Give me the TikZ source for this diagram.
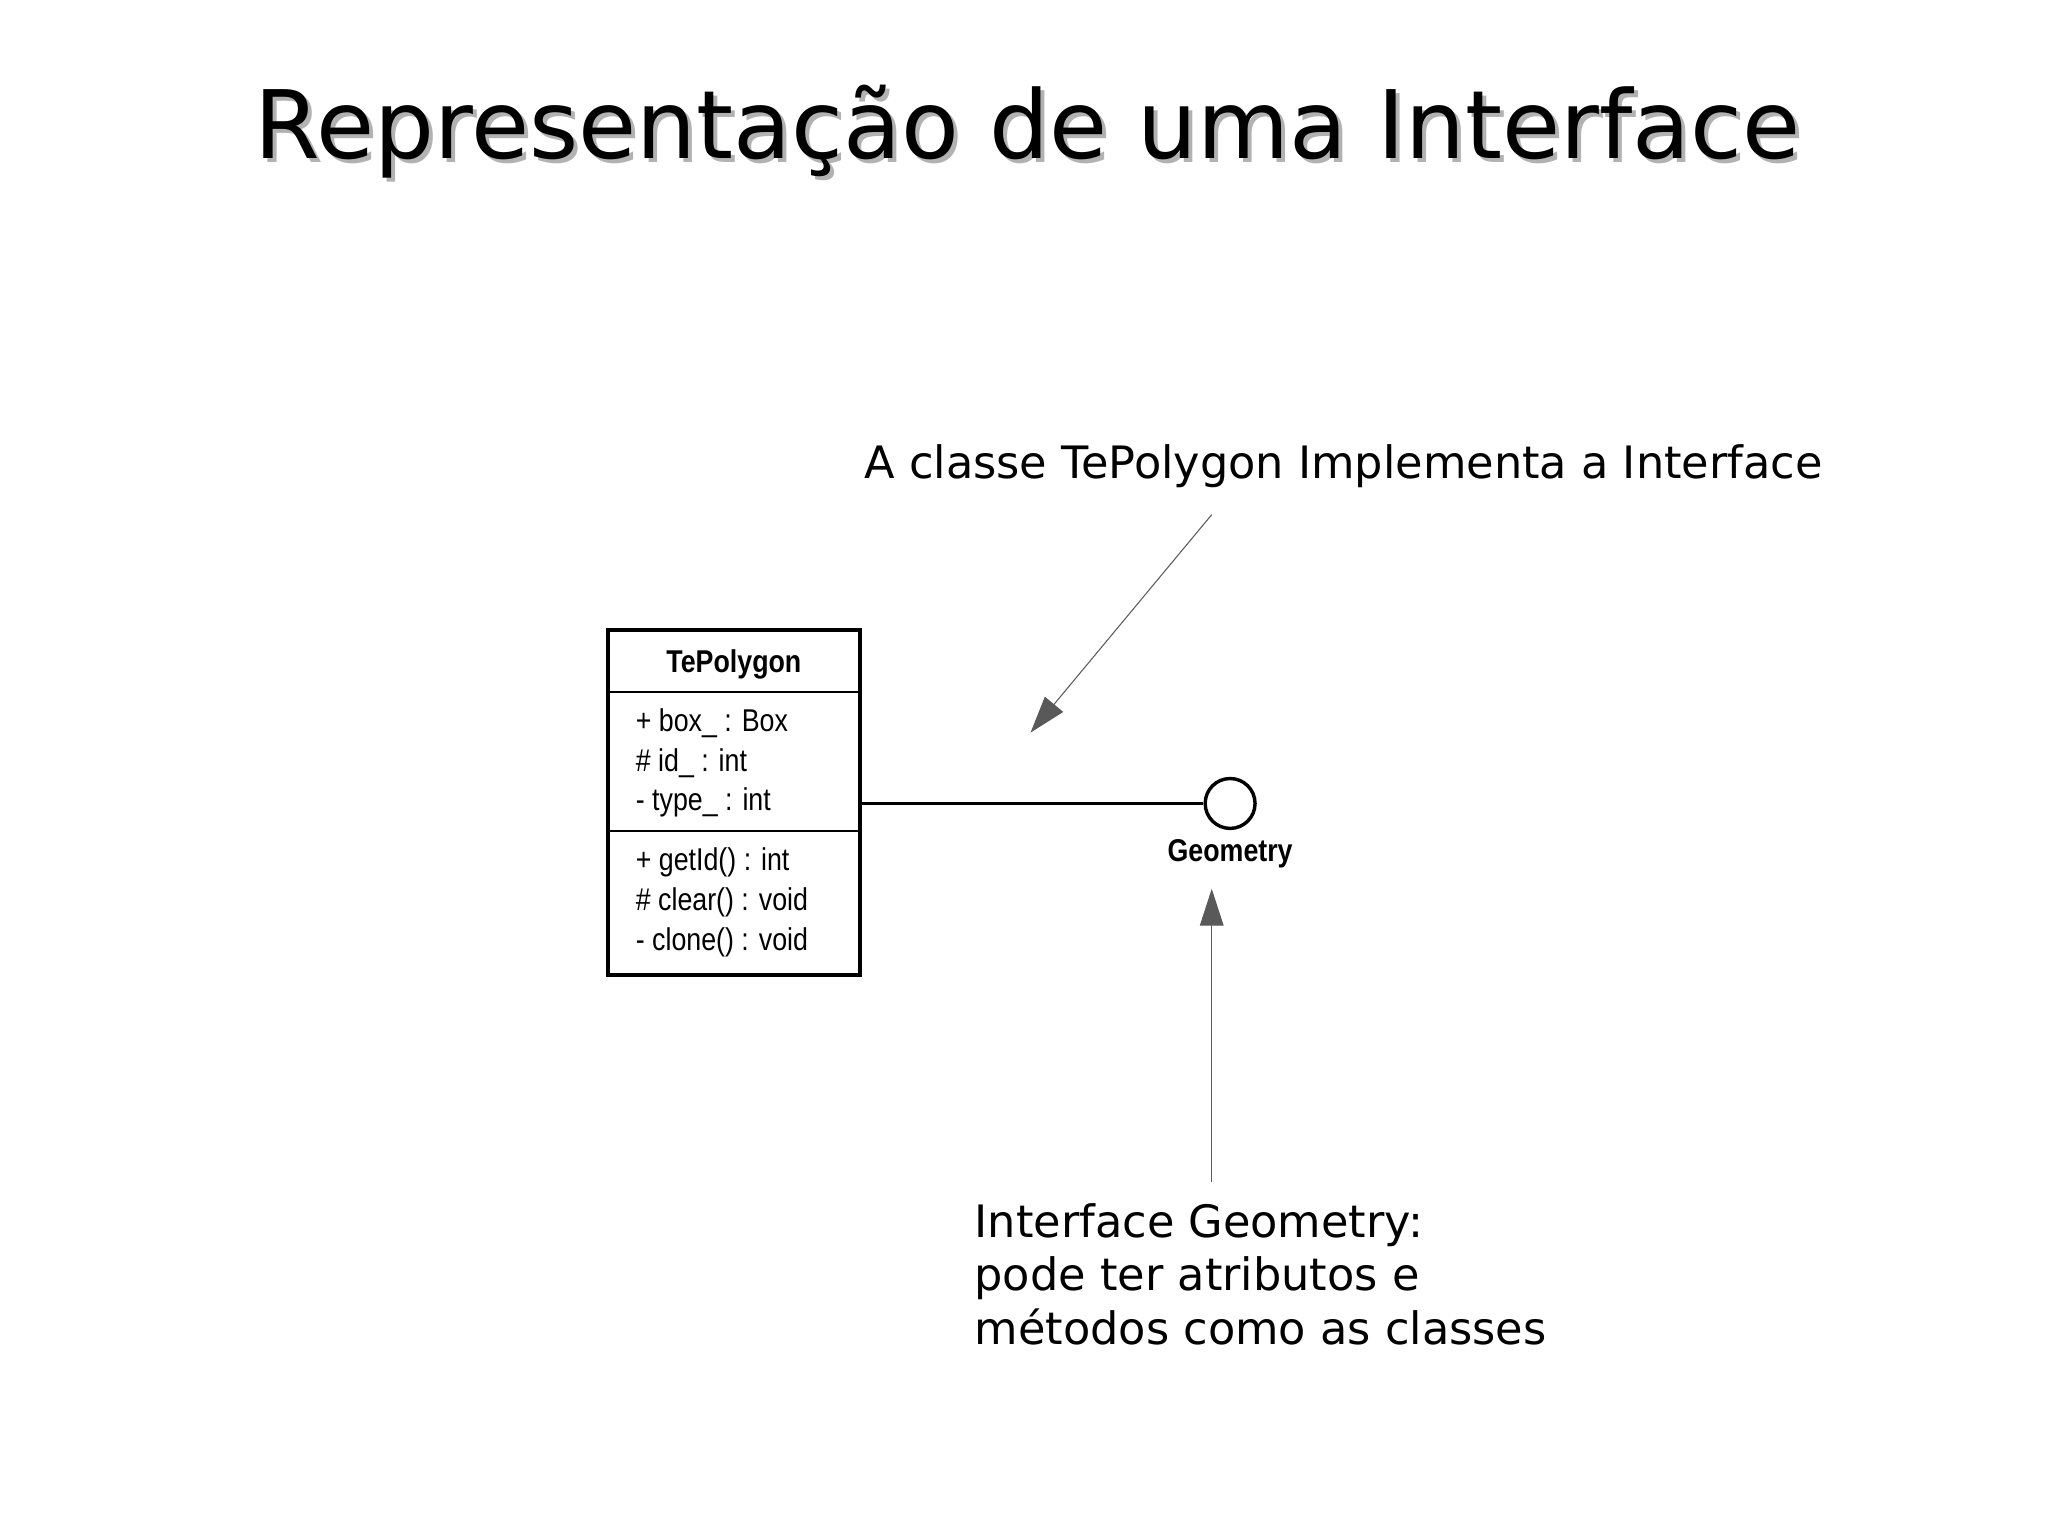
\documentclass[tikz,border=0pt]{standalone}
\usepackage{fontspec}
\setmainfont{DejaVu Sans}
\newfontfamily\umlfont{Liberation Sans}
\usetikzlibrary{arrows.meta}
\begin{document}
\begin{tikzpicture}[x=0.5pt,y=-0.5pt,
  body/.style={font=\fontsize{17}{20.5}\selectfont,anchor=west,inner sep=0,align=left},
  uml/.style={font=\umlfont\fontsize{12}{14}\selectfont,anchor=west,inner sep=0,xscale=0.85},
  ptr/.style={-{Triangle[length=14pt,width=9pt]},line width=0.4pt}]
\useasboundingbox (0,0) rectangle (1560,1169);
\node[font=\fontsize{36}{40}\selectfont,text=gray!60] at (786,103) {Representação de uma Interface};
\node[font=\fontsize{36}{40}\selectfont] (title) at (783,100) {Representação de uma Interface};
\node[body] (t1) at (658,355) {A classe TePolygon Implementa a Interface};
\coordinate (a1s) at (923,392);
\coordinate (a1e) at (785,558);
\draw[ptr,gray!70!black] (a1s) -- (a1e);
\draw[line width=1.5pt] (463,480) rectangle (655,743);
\draw[line width=0.8pt] (463,527) -- (655,527) (463,633) -- (655,633);
\node[font=\umlfont\bfseries\fontsize{12}{14}\selectfont,xscale=0.85] (cls) at (559,506) {TePolygon};
\node[uml] at (484,551) {+ box\_ : Box};
\node[uml] at (484,581) {\# id\_ : int};
\node[uml] at (484,611) {- type\_ : int};
\node[uml] at (484,657) {+ getId() : int};
\node[uml] at (484,687) {\# clear() : void};
\node[uml] at (484,718) {- clone() : void};
\coordinate (boxr) at (655,612);
\node[circle,draw,line width=1.3pt,minimum size=38*0.5pt,inner sep=0] (geo) at (937,612) {};
\draw[line width=0.9pt] (boxr) -- (geo.west);
\node[font=\umlfont\bfseries\fontsize{12}{14}\selectfont,xscale=0.85] (gl) at (937,650) {Geometry};
\coordinate (a2s) at (923,900);
\coordinate (a2e) at (923,677);
\draw[ptr,gray!70!black] (a2s) -- (a2e);
\node[body,anchor=north west] (t2) at (742,916) {Interface Geometry:\\pode ter atributos e\\métodos como as classes};
\end{tikzpicture}
\end{document}
